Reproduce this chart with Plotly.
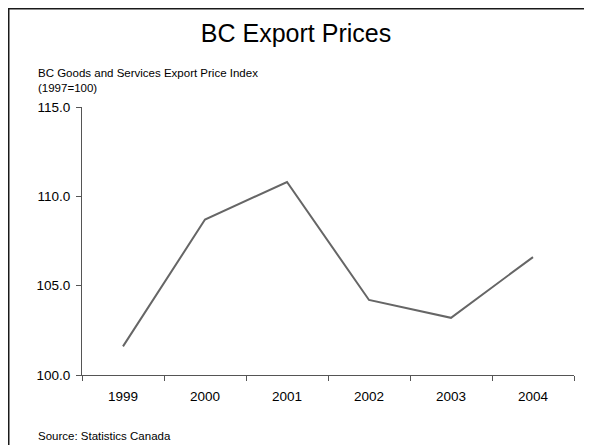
import plotly.graph_objects as go

years = ["1999", "2000", "2001", "2002", "2003", "2004"]
price_index = [101.6, 108.7, 110.8, 104.2, 103.2, 106.6]
y_ticks = [100, 105, 110, 115]

# page body adds an 8px offset; layout numbers are in figure pixels
OFF = 8
W, H = 592, 445
L, R, T, B = 74, 26, 99, 78
pw, ph = W - L - R, H - T - B

def px(x):
    return (x - L) / pw

def py(y):
    return (H - B - y) / ph

fig = go.Figure()
fig.add_trace(go.Scatter(x=years, y=price_index, mode="lines",
                         line=dict(color="#666666", width=2),
                         hoverinfo="x+y", showlegend=False))

font = "Arial, Liberation Sans, sans-serif"
fig.update_layout(
    width=W, height=H,
    margin=dict(l=L, r=R, t=T, b=B),
    paper_bgcolor="white", plot_bgcolor="white",
    font=dict(family=font, color="black", size=13.5),
    title=dict(text="BC Export Prices", x=px(296 - OFF), xref="paper", xanchor="center",
               y=1 - (33 - OFF) / H, yanchor="middle", yref="container",
               font=dict(size=25, family=font, color="black")),
    xaxis=dict(type="category", range=[-0.5, 5.5], showgrid=False,
               showline=True, linecolor="#555555", linewidth=1,
               ticks="outside", tickson="boundaries", ticklen=5,
               tickcolor="#555555", tickfont=dict(size=13.5), zeroline=False,
               ticklabelstandoff=9),
    yaxis=dict(range=[100, 115], tickvals=y_ticks, tickformat=".1f",
               showgrid=False, showline=True, linecolor="#555555", linewidth=1,
               ticks="outside", ticklen=5, tickcolor="#555555",
               tickfont=dict(size=13.5), zeroline=False,
               ticklabelstandoff=3),
    shapes=[
        dict(type="line", xref="paper", yref="paper",
             x0=px(0), y0=py(0.5), x1=px(620), y1=py(0.5),
             line=dict(color="#1a1a1a", width=2)),
        dict(type="line", xref="paper", yref="paper",
             x0=px(0.5), y0=py(0), x1=px(0.5), y1=py(470),
             line=dict(color="#1a1a1a", width=2)),
    ],
    annotations=[
        dict(text="BC Goods and Services Export Price Index<br>(1997=100)",
             xref="paper", yref="paper", x=px(36 - OFF), y=py(80 - OFF),
             xanchor="left", yanchor="middle", align="left", showarrow=False,
             font=dict(size=11.5, family=font, color="black")),
        dict(text="Source: Statistics Canada",
             xref="paper", yref="paper", x=px(36 - OFF), y=py(436 - OFF),
             xanchor="left", yanchor="middle", align="left", showarrow=False,
             font=dict(size=11.5, family=font, color="black")),
    ],
)

fig.write_html("out.html")
